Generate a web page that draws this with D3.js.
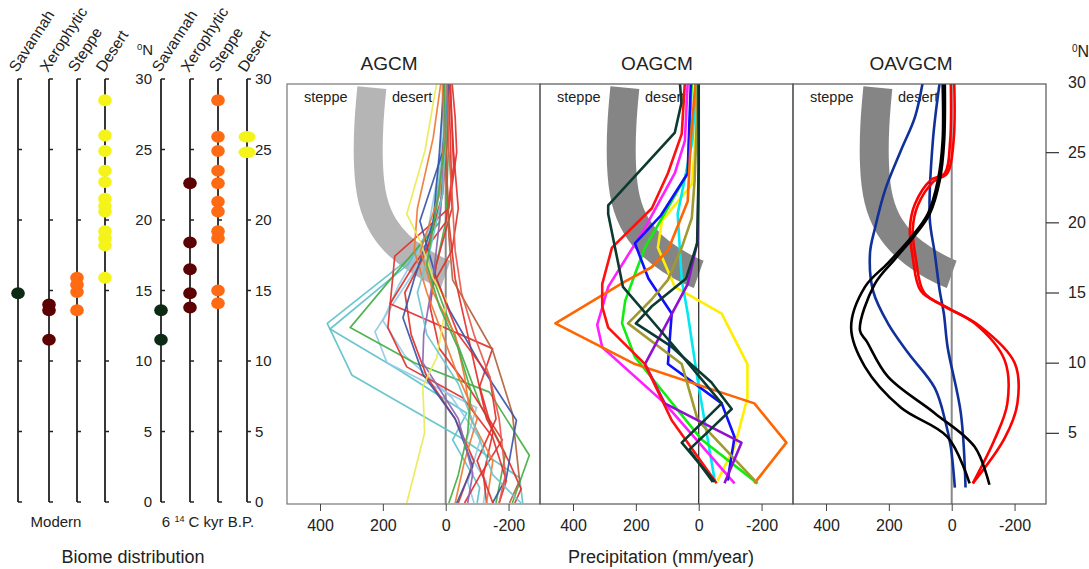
<!DOCTYPE html>
<html><head><meta charset="utf-8">
<script src="https://cdn.jsdelivr.net/npm/d3@7"></script>
<style>
body{margin:0;background:#fff}
text{font-family:"Liberation Sans",Arial,Helvetica,sans-serif;fill:#222}
</style></head>
<body><svg id="c" width="1089" height="569"></svg>
<script>
// ---------- Biome data (latitude, °N) ----------
const biomeNames = ["Savannah","Xerophytic","Steppe","Desert"];
const biomeColors = ["#0c2a14","#5c0202","#ff6a13","#f4f41a"];
const modernSavannah = [14.8];
const modernXerophytic = [14.0,13.6,11.5];
const modernSteppe = [15.9,15.4,14.9,13.6];
const modernDesert = [28.5,26.0,24.9,23.5,22.7,21.5,21.0,20.6,19.2,18.7,18.2,15.9];
const mh6Savannah = [13.6,11.5];
const mh6Xerophytic = [22.6,18.4,16.5,14.8,13.8];
const mh6Steppe = [28.5,25.9,24.9,23.5,22.6,21.3,20.6,19.2,18.7,15.0,14.1];
const mh6Desert = [25.9,24.8];
const latTicks = [0,5,10,15,20,25,30];
const precipTicks = [400,200,0,-200];

// ---------- steppe/desert boundary band [precip, lat] ----------
const band = [[235,29.6],[246,27],[248,24],[236,21.5],[200,19.6],[150,18.3],[90,17.3],[25,16.5],[0,16.3]];

// ---------- AGCM series [precip change, lat] ----------
const agcmColors = ["#5fc1ca","#5fc1ca","#92cbe6","#92cbe6","#45ad45","#45ad45","#e2302c","#e2302c","#e2302c","#e2302c","#e2302c","#ee7b35","#b4623c","#3a55a8","#3a55a8","#8b65b5","#eaea55","#ee7b35","#e2302c","#6cc6ce","#45ad45","#e65a4a"];
const agcm1 = [[-5,30],[5,26],[20,22],[57,18.5],[174,16.4],[377,12.8],[298,9.1],[-44,4.7],[-235,1.8],[-245,0]];
const agcm2 = [[0,30],[10,25],[40,20],[120,17],[368,12.4],[150,9.5],[-67,6.4],[-22,4.5],[-108,1.1],[-100,0]];
const agcm3 = [[10,30],[15,25],[30,20],[100,16.5],[225,12.2],[187,10],[-98,6.8],[-60,4],[-130,1.5],[-120,0]];
const agcm4 = [[5,30],[20,24],[60,19],[150,15.5],[200,13],[130,10.5],[-20,7.5],[-110,4.5],[-70,1.5],[-90,0]];
const agcm5 = [[-10,30],[0,25],[20,20],[177,15.9],[304,12.5],[100,10],[-139,7.9],[-266,3.4],[-212,0]];
const agcm6 = [[-5,30],[-8,25],[0,20],[40,16],[-10,13],[-60,10],[-110,7],[-190,3.5],[-160,0]];
const agcm7 = [[-15,30],[-20,27],[-25,24],[0,20],[100,17],[177,14.2],[-149,11],[-108,8.3],[-150,5],[-120,2],[-130,0]];
const agcm8 = [[-20,30],[-30,27.5],[-35,25],[-10,21],[162,17.6],[184,12.5],[124,9.7],[-54,7.5],[-149,4.7],[-193,1.6],[-170,0]];
const agcm9 = [[0,30],[-5,26],[10,22],[60,18],[130,15],[110,12],[60,9],[-30,6],[-90,3],[-40,0]];
const agcm10 = [[-8,30],[-15,26],[-20,21],[30,17],[50,14],[20,11],[-80,8],[-180,4.5],[-110,2],[-60,0]];
const agcm11 = [[5,30],[0,25],[-10,20],[-30,16],[-60,13],[-100,9],[-130,6],[-200,3],[-240,1],[-220,0]];
const agcm12 = [[15,30],[40,26],[90,21],[100,18],[60,15],[10,12],[-40,9],[-100,6],[-60,3],[-30,0]];
const agcm13 = [[0,30],[-3,24],[-10,19],[-22,15.9],[-149,10.9],[-212,6.4],[-235,1.6],[-203,0]];
const agcm14 = [[-10,30],[10,25],[82,20.1],[30,16],[-13,13.7],[-120,9.5],[-225,5.9],[-193,1.8],[-149,0]];
const agcm15 = [[5,30],[20,25],[40,20],[100,16],[136,13.2],[73,9.2],[-30,6],[-86,2.6],[-35,0]];
const agcm16 = [[0,30],[5,25],[20,20],[40,16],[70,12],[73,10],[-40,6],[-86,2.1],[-70,0]];
const agcm17 = [[28,30],[66,25.1],[124,20.6],[82,18.7],[40,16],[-3,14.4],[28,10.4],[73,8.3],[67,5],[124,0]];
const agcm18 = [[10,30],[5,26],[20,22],[80,18],[40,15],[-30,12],[-60,9],[-80,6],[-150,3],[-130,0]];
const agcm19 = [[-12,30],[-25,25],[-40,21],[-20,18],[30,16],[-40,12],[-140,9],[-160,6],[-100,3],[-150,0]];
const agcm20 = [[0,30],[0,26],[10,22],[50,18],[90,15],[60,12],[-40,8.5],[-100,5],[-150,2],[-240,0]];
const agcm21 = [[5,30],[0,26],[30,21],[60,17],[20,14],[-40,11],[-80,8],[-70,5],[-40,2],[-10,0]];
const agcm22 = [[-5,30],[-10,25],[-20,22],[-30,18],[-50,15],[-90,12],[-140,9],[-170,6],[-190,2],[-170,0]];
const agcmSeries = [agcm1,agcm2,agcm3,agcm4,agcm5,agcm6,agcm7,agcm8,agcm9,agcm10,agcm11,agcm12,agcm13,agcm14,agcm15,agcm16,agcm17,agcm18,agcm19,agcm20,agcm21,agcm22];

// ---------- OAGCM series ----------
const oagcmColors = ["#ffee00","#00e8f0","#10ee10","#ff20ff","#1010ff","#ff6600","#a09a30","#9010d0","#ff1010","#0c3a30","#0c3a30"];
const oaYellow = [[3,30],[10,26],[22,22.7],[117,20.1],[130,18.2],[76,15.4],[-73,13.5],[-155,9.9],[-155,7.5],[-114,4],[-60,1.6]];
const oaCyan = [[8,30],[20,25.8],[67,20.6],[54,15.9],[35,13.5],[3,8.7],[-51,1.6]];
const oaGreen = [[22,30],[30,26],[35,23.5],[117,20.3],[171,18.2],[203,16.3],[234,14.4],[244,12.8],[203,10.4],[-10,4.5],[-187,1.4]];
const oaMagenta = [[35,30],[44,25.8],[76,23.5],[171,19.6],[288,15.4],[323,12.7],[307,11.1],[108,7.1],[-114,1.4]];
const oaBlue = [[25,30],[30,27],[35,23.5],[120,20.5],[203,18.5],[160,16],[86,13.5],[98,9.9],[-73,7.1],[-114,4.7],[-92,1.6]];
const oaOrange = [[10,30],[25,26],[35,21.5],[98,18],[150,16.8],[234,15.8],[456,12.8],[203,9.9],[-177,7.1],[-279,4.3],[-177,1.4]];
const oaOlive = [[3,30],[8,26],[13,23],[22,20.3],[54,18.2],[98,15.9],[150,14.5],[225,12.8],[54,9.9],[3,5.9],[-187,1.4]];
const oaPurple = [[0,30],[0,24],[3,18.7],[35,15.6],[171,9.9],[108,7.1],[-136,4.3],[-82,1.4]];
const oaRed = [[44,30],[54,26.3],[98,23.5],[149,21],[276,18.2],[307,15.6],[307,14],[288,12.5],[171,9.9],[86,5.9],[-57,1.4]];
const oaDark1 = [[60,30],[55,28.5],[76,26.4],[288,21.2],[288,20.6],[241,15.4],[76,11.1],[-73,7.1],[54,4.3],[-51,1.5]];
const oaDark2 = [[0,30],[0,24],[5,18.5],[40,16],[150,14],[200,12.8],[90,11.2],[20,9.8],[-40,8.6],[-105,6.7],[-40,5.3],[30,3.8],[-45,1.5]];
const oagcmSeries = [oaYellow,oaCyan,oaGreen,oaMagenta,oaBlue,oaOrange,oaOlive,oaPurple,oaRed,oaDark1,oaDark2];

// ---------- OAVGCM series ----------
const oavColors = ["#10309a","#10309a","#ff0000","#ff0000","#000000","#000000"];
const oavBlue1 = [[92,30],[117,27.5],[162,25.1],[212,22.3],[244,19.6],[260,17.8],[250,15.1],[203,12.8],[139,10.7],[54,8.2],[19,5.7],[3,4],[-10,1.1]];
const oavBlue2 = [[38,30],[60,25.8],[70,20.3],[54,17.8],[38,15.1],[25,13.5],[13,11.1],[-29,6.4],[-44,1.1]];
const oavRed1 = [[3,30],[5,25.8],[22,23.5],[67,23],[117,21.3],[133,19.6],[124,17.5],[98,15.1],[22,14],[-73,12.8],[-168,10.2],[-177,7.1],[-136,4.5],[-67,1.4]];
const oavRed2 = [[-8,30],[-6,25.8],[14,23.5],[58,22.9],[108,21.2],[124,19.5],[114,17.4],[88,15],[12,13.9],[-90,12.6],[-200,10],[-209,7.1],[-168,4.6],[-67,1.4]];
const oavBlack1 = [[29,30],[29,25.8],[44,23],[76,20.6],[130,18.9],[203,17.1],[276,15.4],[320,12.5],[276,9.7],[162,6.8],[13,4.7],[-57,1.4]];
const oavBlack2 = [[22,30],[24,25.8],[38,23],[70,20.6],[120,19],[180,17.4],[245,15.6],[292,12.3],[270,11.5],[203,9],[54,6.4],[-73,4],[-120,1.3]];
const oavgcmSeries = [oavBlue1,oavBlue2,oavRed1,oavRed2,oavBlack1,oavBlack2];

const panelTitles = ["AGCM","OAGCM","OAVGCM"];

// ---------- drawing ----------
const svg = d3.select("#c");
svg.append("rect").attr("width",1089).attr("height",569).attr("fill","#fff");

// Biome panel
const yB = d3.scaleLinear().domain([0,30]).range([502,79]);
const colX = [18,49,77,105,161,190,218,247];
const biomeSets = [modernSavannah,modernXerophytic,modernSteppe,modernDesert,mh6Savannah,mh6Xerophytic,mh6Steppe,mh6Desert];
colX.forEach((cx,i)=>{
  const g = svg.append("g").attr("transform",`translate(${cx},0)`);
  g.append("line").attr("x1",0).attr("x2",0).attr("y1",yB(30)).attr("y2",yB(0)).attr("stroke","#222").attr("stroke-width",1.8);
  latTicks.forEach(t=>g.append("line").attr("x1",0).attr("x2",4).attr("y1",yB(t)).attr("y2",yB(t)).attr("stroke","#222").attr("stroke-width",1.5));
  const bi = i%4;
  const wide = (i===7);
  g.selectAll("ellipse").data(biomeSets[i]).join("ellipse")
    .attr("cx",0).attr("cy",d=>yB(d)).attr("rx",wide?8.5:6.8).attr("ry",wide?5.8:6)
    .attr("fill",biomeColors[bi]);
  svg.append("text").attr("transform",`translate(${cx-1},73) rotate(-57)`)
    .attr("font-size",15.5).attr("fill","#222").text(biomeNames[bi]);
});
// biome lat labels
latTicks.forEach(t=>{
  svg.append("text").attr("x",152).attr("y",yB(t)+5).attr("text-anchor","end").attr("font-size",15).attr("fill","#333").text(t);
  svg.append("text").attr("x",255).attr("y",yB(t)+5).attr("font-size",15).attr("fill","#333").text(t);
});
const nLab = svg.append("text").attr("x",137).attr("y",55).attr("font-size",15).attr("fill","#333");
nLab.append("tspan").attr("font-size",9.5).attr("dy",-5).text("0");
nLab.append("tspan").attr("dy",5).text("N");
svg.append("text").attr("x",56).attr("y",527).attr("text-anchor","middle").attr("font-size",15).attr("fill","#333").text("Modern");
const kyr = svg.append("text").attr("x",208).attr("y",527).attr("text-anchor","middle").attr("font-size",15).attr("fill","#333");
kyr.append("tspan").text("6 ");
kyr.append("tspan").attr("font-size",9).attr("dy",-5).text("14");
kyr.append("tspan").attr("dy",5).text(" C kyr B.P.");
svg.append("text").attr("x",133).attr("y",563).attr("text-anchor","middle").attr("font-size",18).attr("fill","#111").text("Biome distribution");

// Model panels
const yP = d3.scaleLinear().domain([0,30]).range([503,82]);
const panelX = [287,540,793];
const titleX = [389,657,911];
const panelW = 253;
const frameTop = 84, frameBot = 504;
const allSeries = [agcmSeries,oagcmSeries,oavgcmSeries];
const allColors = [agcmColors,oagcmColors,oavColors];
const bandColors = ["#b5b5b5","#858585","#858585"];
const widths = [1.7,2.6,2.6];

panelX.forEach((px,pi)=>{
  const x = d3.scaleLinear().domain([505,-300]).range([px,px+panelW]);
  const clipId = "clip"+pi;
  svg.append("clipPath").attr("id",clipId).append("rect").attr("x",px).attr("y",frameTop).attr("width",panelW).attr("height",frameBot-frameTop);
  const g = svg.append("g");
  const inner = g.append("g").attr("clip-path",`url(#${clipId})`);
  // band
  inner.append("path").datum(band)
    .attr("d",d3.line().x(d=>x(d[0])).y(d=>yP(d[1])).curve(d3.curveBasis))
    .attr("fill","none").attr("stroke",bandColors[pi]).attr("stroke-width",29).attr("stroke-linecap","butt");
  // zero line
  inner.append("line").attr("x1",x(0)).attr("x2",x(0)).attr("y1",frameTop).attr("y2",frameBot)
    .attr("stroke",pi===1?"#222":"#888").attr("stroke-width",pi===1?1.2:2);
  // labels
  inner.append("text").attr("x",x(505)+17).attr("y",102).attr("font-size",14.5).attr("fill","#222").text("steppe");
  inner.append("text").attr("x",x(505)+105).attr("y",102).attr("font-size",14.5).attr("fill","#222").text("desert");
  // lines
  const ln = d3.line().x(d=>x(d[0])).y(d=>yP(d[1])).curve(pi===2?d3.curveCatmullRom:d3.curveLinear);
  inner.selectAll("path.s").data(allSeries[pi]).join("path").attr("class","s")
    .attr("d",ln).attr("fill","none")
    .attr("stroke",(d,i)=>allColors[pi][i]).attr("stroke-width",widths[pi])
    .attr("stroke-linejoin","round").attr("opacity",pi===0?0.92:1);
  // frame
  g.append("rect").attr("x",px).attr("y",frameTop).attr("width",panelW).attr("height",frameBot-frameTop)
    .attr("fill","none").attr("stroke",pi===0?"#777":"#555").attr("stroke-width",1.2);
  // bottom axis
  const ax = g.append("g").attr("transform",`translate(0,${frameBot})`)
    .call(d3.axisBottom(x).tickValues(precipTicks).tickFormat(d=>String(d)).tickSize(7).tickPadding(9));
  ax.select(".domain").remove();
  ax.selectAll("line").attr("stroke","#444");
  ax.selectAll("text").attr("font-size",16).attr("fill","#333").style("font-family","'Liberation Sans',Arial,sans-serif");
  // title
  g.append("text").attr("x",titleX[pi]).attr("y",70).attr("text-anchor","middle").attr("font-size",19).attr("fill","#111").text(panelTitles[pi]);
});

// right latitude axis
const rAx = svg.append("g").attr("transform",`translate(${panelX[2]+panelW},0)`)
  .call(d3.axisRight(yP).tickValues([5,10,15,20,25,30]).tickSize(13).tickPadding(9));
rAx.select(".domain").remove();
rAx.selectAll("line").attr("stroke","#333").attr("stroke-width",1.2).filter(d=>d===30).remove();
rAx.selectAll("text").attr("font-size",16).attr("fill","#333").style("font-family","'Liberation Sans',Arial,sans-serif");
const nLab2 = svg.append("text").attr("x",1072).attr("y",57).attr("font-size",16).attr("fill","#333");
nLab2.append("tspan").attr("font-size",10).attr("dy",-5).text("0");
nLab2.append("tspan").attr("dy",5).text("N");

svg.append("text").attr("x",661).attr("y",563).attr("text-anchor","middle").attr("font-size",18).attr("fill","#111").text("Precipitation (mm/year)");
</script>
</body></html>
